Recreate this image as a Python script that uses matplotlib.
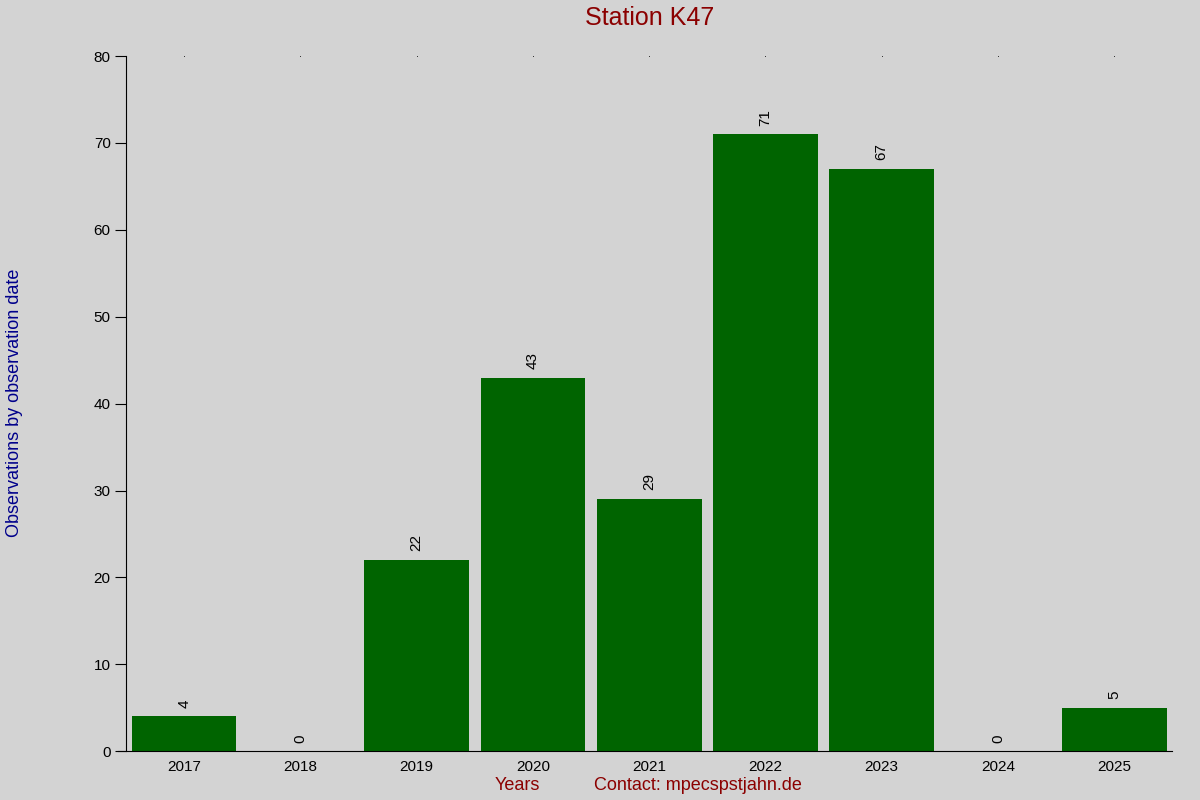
import matplotlib.pyplot as plt

years = ["2017", "2018", "2019", "2020", "2021", "2022", "2023", "2024", "2025"]
counts = [4, 0, 22, 43, 29, 71, 67, 0, 5]

plt.rcParams["font.family"] = ["Liberation Sans", "DejaVu Sans"]
bg = "#d3d3d3"

fig = plt.figure(figsize=(12, 8), dpi=100, facecolor=bg)
ax = fig.add_axes([0.105, 0.061, 0.872, 0.869], facecolor=bg)

x = list(range(len(years)))
ax.bar(x, counts, width=0.9, color="#006400")
for xi, c in zip(x, counts):
    ax.text(xi, c + 1, str(c), rotation=90, ha="center", va="bottom", fontsize=11)

# small dots along the top edge
ax.plot(x, [80] * len(x), linestyle="none", marker="s", markersize=0.5,
        markeredgewidth=0, color="black")

ax.set_xlim(-0.5, len(years) - 0.5)
ax.set_ylim(0, 80)
ax.set_xticks(x)
ax.set_xticklabels(years)
ax.set_yticks(range(0, 81, 10))
ax.tick_params(axis="x", length=0, labelsize=11, pad=6)
ax.tick_params(axis="y", length=8, labelsize=11, pad=3)
for s in ["top", "right"]:
    ax.spines[s].set_visible(False)
ax.spines["bottom"].set_bounds(-0.57, len(years) - 0.5)

fig.text(0.541, 0.978, "Station K47", color="#8b0000", fontsize=18,
         ha="center", va="center")
fig.text(0.012, 0.497, "Observations by observation date", rotation=90,
         color="#00008b", fontsize=13, ha="center", va="center")
fig.text(0.431, 0.018, "Years", color="#8b0000", fontsize=13, ha="center", va="center")
fig.text(0.582, 0.018, "Contact: mpecspstjahn.de", color="#8b0000", fontsize=13,
         ha="center", va="center")

fig.savefig("out.png", dpi=100, facecolor=bg)
